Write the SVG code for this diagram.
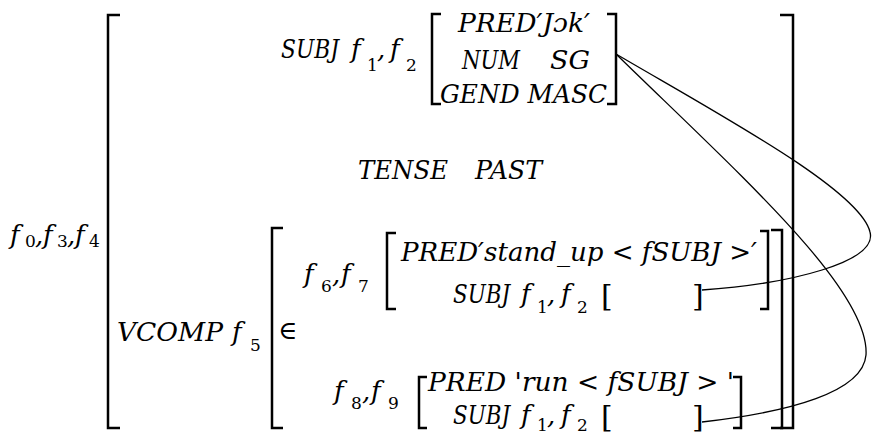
<svg xmlns="http://www.w3.org/2000/svg" width="876" height="432" viewBox="0 0 876 432">
<style>
text{font-family:"DejaVu Serif","Liberation Serif",serif;fill:#000}
.i{font-style:italic;font-size:26px}
.s{font-size:17px}
.u{font-size:26px}
.k{font-size:30px}
.b{fill:none;stroke:#000;stroke-width:2.5}
.c{fill:none;stroke:#000;stroke-width:1.3}
</style>
<rect width="876" height="432" fill="#fff"/>

<g id="f0">
  <path class="b" d="M120,15 H108 V428 H120"/>
  <path class="b" d="M780,15 H793 V428 H780"/>
  <text class="i" x="10" y="244">f</text>
  <text class="s" x="25" y="247">0</text>
  <text class="i" x="35" y="244">,</text>
  <text class="i" x="43" y="244">f</text>
  <text class="s" x="57" y="247">3</text>
  <text class="i" x="67" y="244">,</text>
  <text class="i" x="75" y="244">f</text>
  <text class="s" x="89" y="247">4</text>
</g>

<g id="subj-f1">
  <text class="i" x="281" y="58" textLength="58" lengthAdjust="spacingAndGlyphs">SUBJ</text>
  <text class="i" x="351" y="58">f</text>
  <text class="s" x="367" y="71">1</text>
  <text class="i" x="377" y="58">,</text>
  <text class="i" x="390" y="58">f</text>
  <text class="s" x="406" y="71">2</text>
  <path class="b" d="M441,14 H432 V104 H441"/>
  <path class="b" d="M607,14 H616 V104 H607"/>
  <text class="i" x="458" y="32" textLength="132" lengthAdjust="spacingAndGlyphs">PRED′Jɔk′</text>
  <text class="i" x="462" y="69" textLength="58" lengthAdjust="spacingAndGlyphs">NUM</text>
  <text class="i" x="550" y="69" textLength="40" lengthAdjust="spacingAndGlyphs">SG</text>
  <text class="i" x="440" y="103" textLength="167" lengthAdjust="spacingAndGlyphs">GEND MASC</text>
</g>

<g id="tense">
  <text class="i" x="358" y="179" textLength="90" lengthAdjust="spacingAndGlyphs">TENSE</text>
  <text class="i" x="475" y="179" textLength="67" lengthAdjust="spacingAndGlyphs">PAST</text>
</g>

<g id="vcomp-f5">
  <text class="i" x="117" y="341" textLength="106" lengthAdjust="spacingAndGlyphs">VCOMP</text>
  <text class="i" x="232" y="341">f</text>
  <text class="s" x="250" y="351">5</text>
  <path class="b" d="M283,228 H272 V428 H283"/>
  <path class="b" d="M771,230 H782 V428 H771"/>
  <text class="u" x="278" y="339">∈</text>
</g>

<g id="f6">
  <text class="i" x="304" y="283">f</text>
  <text class="s" x="321" y="292">6</text>
  <text class="i" x="332" y="283">,</text>
  <text class="i" x="341" y="283">f</text>
  <text class="s" x="358" y="292">7</text>
  <path class="b" d="M396,233 H387 V309 H396"/>
  <path class="b" d="M760,231 H768 V309 H760"/>
  <text class="i" x="401" y="261" textLength="356" lengthAdjust="spacingAndGlyphs">PRED′stand_up &lt; fSUBJ &gt;′</text>
  <text class="i" x="453" y="303" textLength="57" lengthAdjust="spacingAndGlyphs">SUBJ</text>
  <text class="i" x="521" y="303">f</text>
  <text class="s" x="537" y="313">1</text>
  <text class="i" x="547" y="303">,</text>
  <text class="i" x="561" y="303">f</text>
  <text class="s" x="577" y="313">2</text>
  <text class="k" x="601" y="306">[</text>
  <text class="k" x="692" y="306">]</text>
</g>

<g id="f8">
  <text class="i" x="334" y="400">f</text>
  <text class="s" x="351" y="409">8</text>
  <text class="i" x="362" y="400">,</text>
  <text class="i" x="371" y="400">f</text>
  <text class="s" x="388" y="409">9</text>
  <path class="b" d="M427,377 H419 V428 H427"/>
  <path class="b" d="M733,377 H741 V428 H733"/>
  <text class="i" x="428" y="391" textLength="306" lengthAdjust="spacingAndGlyphs">PRED 'run &lt; fSUBJ &gt; '</text>
  <text class="i" x="453" y="424" textLength="57" lengthAdjust="spacingAndGlyphs">SUBJ</text>
  <text class="i" x="521" y="424">f</text>
  <text class="s" x="537" y="431">1</text>
  <text class="i" x="547" y="424">,</text>
  <text class="i" x="561" y="424">f</text>
  <text class="s" x="577" y="431">2</text>
  <text class="k" x="601" y="427">[</text>
  <text class="k" x="692" y="427">]</text>
</g>

<g id="connectors">
  <path class="c" d="M616,54 C720,115 860,190 870,232 C878,262 790,284 702,290"/>
  <path class="c" d="M616,54 C740,175 870,290 866,355 C863,392 790,412 702,422"/>
</g>
</svg>
